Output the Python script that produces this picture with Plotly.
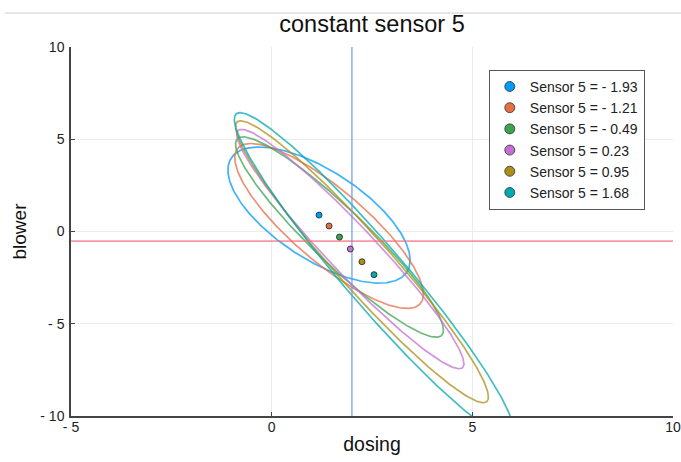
import numpy as np
import plotly.graph_objects as go

# ---- data ----
sensor_labels = ["Sensor 5 = - 1.93", "Sensor 5 = - 1.21", "Sensor 5 = - 0.49",
                 "Sensor 5 = 0.23", "Sensor 5 = 0.95", "Sensor 5 = 1.68"]
center_dosing = [1.18, 1.43, 1.69, 1.96, 2.25, 2.55]
center_blower = [0.89, 0.30, -0.30, -0.95, -1.64, -2.34]
sd_dosing = [2.27, 2.35, 2.59, 2.83, 3.15, 3.48]
sd_blower = [3.69, 4.47, 5.43, 6.49, 7.64, 8.78]
cov_dosing_blower = [-5.54, -8.7, -13.06, -17.6, -23.07, -29.3]
ref_dosing = 2.0
ref_blower = -0.52

x_tickvals = [-5, 0, 5, 10]
x_ticktext = ["- 5", "0", "5", "10"]
y_tickvals = [-10, -5, 0, 5, 10]
y_ticktext = ["- 10", "- 5", "0", "5", "10"]

colors = ["#009AF9", "#E26F46", "#3DA44E", "#C271D2", "#AC8E18", "#00A9AD"]
FONT = "Liberation Sans, Arial, sans-serif"

W, H = 681, 462

fig = go.Figure()

t = np.linspace(0, 2 * np.pi, 400)
for i in range(len(sensor_labels)):
    a = sd_dosing[i]
    b = cov_dosing_blower[i] / a
    c = np.sqrt(sd_blower[i] ** 2 - b ** 2)
    ex = center_dosing[i] + a * np.cos(t)
    ey = center_blower[i] + b * np.cos(t) + c * np.sin(t)
    fig.add_trace(go.Scatter(x=ex, y=ey, mode="lines",
                             line=dict(color=colors[i], width=1.7),
                             opacity=0.75, showlegend=False, hoverinfo="skip"))

# reference lines
fig.add_trace(go.Scatter(x=[ref_dosing, ref_dosing], y=[-10, 10], mode="lines",
                         line=dict(color="rgba(110,150,240,0.8)", width=1.5),
                         showlegend=False, hoverinfo="skip"))
fig.add_trace(go.Scatter(x=[-5, 10], y=[ref_blower, ref_blower], mode="lines",
                         line=dict(color="rgba(240,110,125,0.7)", width=1.6),
                         showlegend=False, hoverinfo="skip"))

for i in range(len(sensor_labels)):
    fig.add_trace(go.Scatter(x=[center_dosing[i]], y=[center_blower[i]], mode="markers",
                             marker=dict(color=colors[i], size=6,
                                         line=dict(color="#222", width=0.8)),
                             showlegend=False, name=sensor_labels[i]))
    fig.add_trace(go.Scatter(x=[None], y=[None], mode="markers", name=sensor_labels[i],
                             marker=dict(color=colors[i], size=10,
                                         line=dict(color="#333", width=0.8)),
                             showlegend=True))

axis_common = dict(showgrid=True, gridcolor="#ebebeb", gridwidth=1, zeroline=False,
                   showline=True, linecolor="#444", linewidth=1.5, mirror=False,
                   ticks="inside", ticklen=4, tickcolor="#444", tickwidth=1.2,
                   automargin=False, ticklabeloverflow="allow",
                   tickfont=dict(family=FONT, size=14, color="#222"))

fig.update_layout(
    width=W, height=H,
    margin=dict(l=71, r=8, t=47, b=46, autoexpand=False),
    paper_bgcolor="white", plot_bgcolor="white",
    title=dict(text="constant sensor 5", x=0.5, xref="paper", y=1 - 24 / H,
               yref="container", yanchor="middle", xanchor="center",
               font=dict(family=FONT, size=23.5, color="#111"), automargin=False),
    xaxis=dict(range=[-5, 10], tickvals=x_tickvals, ticktext=x_ticktext,
               ticklabelstandoff=-3,
               title=dict(text="dosing", font=dict(family=FONT, size=19.5, color="#111"),
                          standoff=4),
               **axis_common),
    yaxis=dict(range=[-10, 10], tickvals=y_tickvals, ticktext=y_ticktext,
               ticklabelstandoff=2,
               title=dict(text="blower", font=dict(family=FONT, size=19, color="#111"),
                          standoff=9),
               **axis_common),
    legend=dict(x=0.694, y=0.938, xanchor="left", yanchor="top",
                bgcolor="white", bordercolor="#555", borderwidth=1,
                font=dict(family=FONT, size=14, color="#222"),
                tracegroupgap=0),
    showlegend=True,
    hovermode=False,
    shapes=[dict(type="line", xref="paper", yref="paper", x0=-0.11, x1=1.03,
                 y0=1.092, y1=1.092, line=dict(color="#cccccc", width=1))],
)

fig.write_html("out.html",
               config={"displayModeBar": False},
               post_script="document.body.style.margin='0px';"
                           "document.body.style.overflow='hidden';")
